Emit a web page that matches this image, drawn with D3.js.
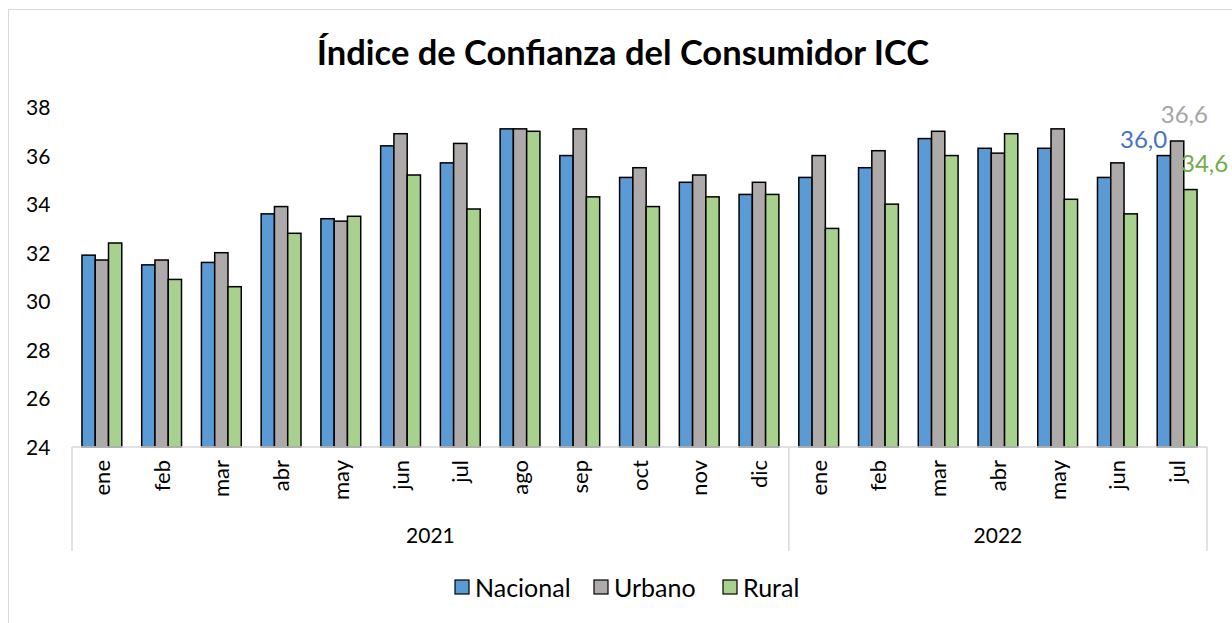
<!DOCTYPE html>
<html lang="es">
<head>
  <meta charset="UTF-8">
  <title>ICC</title>
  <style>
    body { margin: 0; background: #fff; }
    svg text { font-family: Lato, "Open Sans", sans-serif; }
  </style>
</head>
<body>
<svg width="1232" height="623"></svg>
<script src="https://cdn.jsdelivr.net/npm/d3@7"></script>
<script>
  // data
  var months = ["ene","feb","mar","abr","may","jun","jul","ago","sep","oct","nov","dic",
                "ene","feb","mar","abr","may","jun","jul"];
  var years = [{name: "2021", count: 12}, {name: "2022", count: 7}];
  var seriesNames = ["Nacional", "Urbano", "Rural"];
  var nacional = [31.9, 31.5, 31.6, 33.6, 33.4, 36.4, 35.7, 37.1, 36.0, 35.1, 34.9, 34.4,
                  35.1, 35.5, 36.7, 36.3, 36.3, 35.1, 36.0];
  var urbano   = [31.7, 31.7, 32.0, 33.9, 33.3, 36.9, 36.5, 37.1, 37.1, 35.5, 35.2, 34.9,
                  36.0, 36.2, 37.0, 36.1, 37.1, 35.7, 36.6];
  var rural    = [32.4, 30.9, 30.6, 32.8, 33.5, 35.2, 33.8, 37.0, 34.3, 33.9, 34.3, 34.4,
                  33.0, 34.0, 36.0, 36.9, 34.2, 33.6, 34.6];
  var yTicks = [24, 26, 28, 30, 32, 34, 36, 38];

  var fills = ["#5B9BD5", "#AEAAAA", "#A9D18E"];
  var labelColors = ["#4472C4", "#A5A5A5", "#70AD47"];
  var allSeries = [nacional, urbano, rural];

  var svg = d3.select('svg');
  var plotLeft = 72, plotRight = 1207, plotTop = 107, plotBottom = 447;

  // chart border
  svg.append('rect').attr('x', 8.5).attr('y', 9.5).attr('width', 1240).attr('height', 640)
     .attr('fill', 'none').attr('stroke', '#d9d9d9').attr('stroke-width', 1);

  svg.append('text').attr('x', 623).attr('y', 65).attr('text-anchor', 'middle')
     .attr('font-size', 34.5).attr('font-weight', 'bold').attr('fill', '#000')
     .text('Índice de Confianza del Consumidor ICC');

  var idx = d3.range(months.length);
  // gap width 150% -> group takes 3/4.5 of each category
  var x = d3.scaleBand().domain(idx).range([plotLeft, plotRight]).paddingInner(1 / 3).paddingOuter(1 / 6);
  var x0 = d3.scaleBand().domain(idx).range([plotLeft, plotRight]);
  var x1 = d3.scaleBand().domain([0, 1, 2]).range([0, x.bandwidth()]);
  var y = d3.scaleLinear().domain([24, 38]).range([plotBottom, plotTop]);

  // y tick labels
  var yAxis = svg.append('g').attr('transform', `translate(${plotLeft},0)`)
     .call(d3.axisLeft(y).tickValues(yTicks).tickSize(0));
  yAxis.select('.domain').remove();
  yAxis.selectAll('text').attr('font-size', 21).attr('fill', '#000')
     .style('font-family', 'Lato, "Open Sans", sans-serif')
     .attr('text-anchor', 'start').attr('x', -46).attr('dy', '0.36em');

  // bars
  var g = svg.append('g');
  allSeries.forEach(function (vals, s) {
    g.append('g').selectAll('rect').data(vals).enter().append('rect')
      .attr('x', function (d, i) { return x(i) + x1(s); })
      .attr('y', function (d) { return y(d); })
      .attr('width', x1.bandwidth())
      .attr('height', function (d) { return y(24) - y(d); })
      .attr('fill', fills[s]).attr('stroke', '#000').attr('stroke-width', 1.5);
  });

  // category axis
  var ax = svg.append('g').attr('stroke', '#d9d9d9').attr('stroke-width', 1.5);
  ax.append('line').attr('x1', plotLeft).attr('x2', plotRight).attr('y1', plotBottom).attr('y2', plotBottom);
  var start = 0, bounds = [plotLeft];
  years.forEach(function (yr) {
    start += yr.count;
    bounds.push(start < months.length ? x0(start) : plotRight);
  });
  bounds.forEach(function (bx) {
    ax.append('line').attr('x1', bx).attr('x2', bx).attr('y1', plotBottom).attr('y2', 551);
  });

  svg.append('g').selectAll('text').data(months).enter().append('text')
    .attr('transform', function (d, i) {
      return `translate(${x0(i) + x0.bandwidth() / 2 + 8},${460}) rotate(-90)`;
    })
    .attr('text-anchor', 'end').attr('font-size', 22).attr('fill', '#000')
    .text(function (d) { return d; });

  years.forEach(function (yr, k) {
    var cx = (bounds[k] + bounds[k + 1]) / 2;
    svg.append('text').attr('x', cx).attr('y', 543).attr('text-anchor', 'middle')
       .attr('font-size', 21).attr('fill', '#000').text(yr.name);
  });

  // data labels on the last month
  var last = months.length - 1;
  var labelPos = [{dx: 10, dy: -8, anchor: 'end'}, {dx: -23, dy: -18, anchor: 'start'}, {dx: -16, dy: -18, anchor: 'start'}];
  allSeries.forEach(function (vals, s) {
    var p = labelPos[s];
    var bx = x(last) + x1(s);
    svg.append('text')
      .attr('x', s === 0 ? bx + p.dx : bx + x1.bandwidth() + p.dx)
      .attr('y', y(vals[last]) + p.dy)
      .attr('text-anchor', p.anchor).attr('font-size', 24).attr('fill', labelColors[s])
      .text(d3.format('.1f')(vals[last]).replace('.', ','));
  });

  // legend
  var legendX = [455, 594, 723];
  var lg = svg.append('g');
  seriesNames.forEach(function (n, s) {
    lg.append('rect').attr('x', legendX[s]).attr('y', 580).attr('width', 14).attr('height', 14)
      .attr('fill', fills[s]).attr('stroke', '#000').attr('stroke-width', 1.2);
    lg.append('text').attr('x', legendX[s] + 20).attr('y', 597)
      .attr('font-size', 25).attr('fill', '#000').text(n);
  });
</script>
</body>
</html>
